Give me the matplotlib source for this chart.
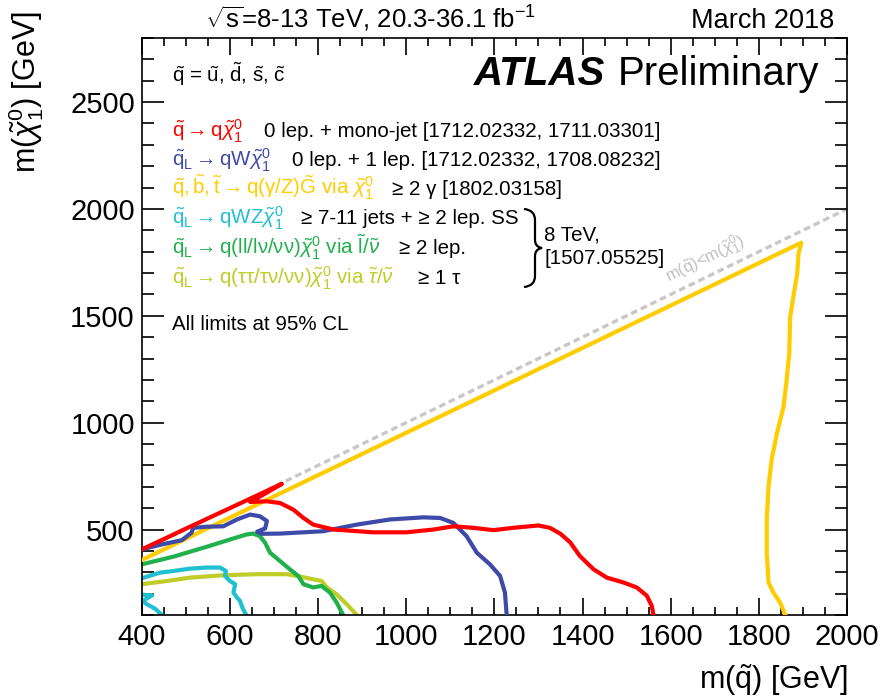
import matplotlib
matplotlib.use("Agg")
import matplotlib.pyplot as plt
from matplotlib.path import Path
from matplotlib.patches import PathPatch
from matplotlib.ticker import MultipleLocator

# ---------------- data (GeV) ----------------
diag_x = [400, 2000]
diag_y = [400, 2000]

red_x = [400, 450, 500, 550, 600, 650, 718, 680, 646, 684, 714, 744, 767, 789, 835, 925, 1001,
         1062, 1107, 1152, 1198, 1243, 1300, 1326, 1350, 1372, 1394, 1425, 1455, 1493, 1523, 1546, 1557, 1561]
red_y = [407, 455, 504, 552, 600, 648, 714, 668, 629, 632, 624, 593, 554, 523, 500, 487, 487,
         500, 515, 508, 497, 508, 519, 508, 480, 440, 376, 314, 275, 252, 229, 190, 143, 100]

blue_x = [400, 445, 491, 513, 517, 547, 585, 616, 646, 668, 684, 680, 662, 672, 714, 812, 888,
          963, 1039, 1077, 1107, 1137, 1160, 1190, 1213, 1224, 1228]
blue_y = [407, 430, 450, 485, 508, 513, 515, 547, 570, 562, 540, 505, 490, 480, 481, 492, 523,
          547, 557, 554, 531, 469, 392, 337, 283, 205, 100]

gold_x = [400, 1896, 1890, 1887, 1878, 1871, 1869, 1863, 1856, 1841, 1829, 1822, 1818, 1818,
          1822, 1833, 1848, 1856, 1860]
gold_y = [357, 1842, 1789, 1696, 1586, 1493, 1324, 1198, 1074, 950, 826, 702, 547, 393,
          252, 205, 159, 120, 100]

cyan1_x = [400, 441, 472, 510, 547, 578, 591, 589, 600, 612, 608, 616, 623, 627, 630, 637]
cyan1_y = [272, 298, 306, 317, 322, 322, 306, 283, 259, 244, 205, 182, 166, 143, 128, 100]
cyan2_x = [400, 424, 412, 402, 412, 430, 446]
cyan2_y = [195, 192, 178, 165, 150, 130, 100]

green_x = [400, 472, 547, 600, 638, 653, 668, 680, 691, 714, 736, 755, 767, 789, 808, 827, 842, 857]
green_y = [337, 373, 419, 453, 477, 481, 469, 438, 392, 352, 314, 283, 244, 229, 236, 205, 159, 100]

yg_x = [400, 457, 510, 585, 661, 729, 759, 789, 808, 820, 842, 865, 888]
yg_y = [244, 259, 275, 286, 291, 291, 280, 267, 259, 229, 197, 151, 100]

x_ticks = [400, 600, 800, 1000, 1200, 1400, 1600, 1800, 2000]
y_ticks = [500, 1000, 1500, 2000, 2500]

RED, BLUE, GOLD, CYAN, GREEN, YG = '#ff0000', '#3d4aa8', '#ffcc00', '#20c0d0', '#20b04c', '#c0cc28'

legend_sig = [
    (r'$\tilde{\mathrm{q}} \rightarrow \mathrm{q}\tilde{\chi}^{0}_{1}$', RED,
     '0 lep. + mono-jet [1712.02332, 1711.03301]'),
    (r'$\tilde{\mathrm{q}}_{\mathrm{L}} \rightarrow \mathrm{qW}\tilde{\chi}^{0}_{1}$', BLUE,
     '0 lep. + 1 lep. [1712.02332, 1708.08232]'),
    (r'$\tilde{\mathrm{q}}, \tilde{\mathrm{b}}, \tilde{\mathrm{t}} \rightarrow \mathrm{q(\gamma/Z)}\tilde{\mathrm{G}}$ via $\tilde{\chi}^{0}_{1}$',
     GOLD, '≥ 2 γ [1802.03158]'),
    (r'$\tilde{\mathrm{q}}_{\mathrm{L}} \rightarrow \mathrm{qWZ}\tilde{\chi}^{0}_{1}$', CYAN,
     '≥ 7-11 jets + ≥ 2 lep. SS'),
    (r'$\tilde{\mathrm{q}}_{\mathrm{L}} \rightarrow \mathrm{q(ll/l\nu/\nu\nu)}\tilde{\chi}^{0}_{1}$ via $\tilde{\mathrm{l}}/\tilde{\nu}$',
     GREEN, '≥ 2 lep.'),
    (r'$\tilde{\mathrm{q}}_{\mathrm{L}} \rightarrow \mathrm{q(\tau\tau/\tau\nu/\nu\nu)}\tilde{\chi}^{0}_{1}$ via $\tilde{\tau}/\tilde{\nu}$',
     YG, '≥ 1 τ'),
]

# ---------------- style ----------------
plt.rcParams['font.family'] = ['Liberation Sans', 'DejaVu Sans']
plt.rcParams['mathtext.fontset'] = 'custom'
plt.rcParams['mathtext.rm'] = 'Liberation Sans'
plt.rcParams['mathtext.it'] = 'Liberation Sans:italic'
plt.rcParams['mathtext.bf'] = 'Liberation Sans:bold'
plt.rcParams['mathtext.sf'] = 'Liberation Sans'

W, H = 883, 697
fig = plt.figure(figsize=(W / 100, H / 100), dpi=100)
L, R, T, B = 141.7, 847.0, 38.0, 615.0
ax = fig.add_axes([L / W, 1 - B / H, (R - L) / W, (B - T) / H])


def fp(px, py):
    return px / W, 1 - py / H


lw = 3.0
ax.plot(diag_x, diag_y, color='#c8c8c8', lw=2.4, ls=(0, (2.0, 1.2)), zorder=1)
ax.plot(yg_x, yg_y, color=YG, lw=lw, zorder=2, solid_joinstyle='round')
ax.plot(green_x, green_y, color=GREEN, lw=lw, zorder=2, solid_joinstyle='round')
ax.plot(cyan1_x, cyan1_y, color=CYAN, lw=lw, zorder=2, solid_joinstyle='round')
ax.plot(cyan2_x, cyan2_y, color=CYAN, lw=lw, zorder=2, solid_joinstyle='round')
ax.plot(gold_x, gold_y, color=GOLD, lw=lw, zorder=3, solid_joinstyle='round')
ax.plot(blue_x, blue_y, color=BLUE, lw=lw, zorder=4, solid_joinstyle='round')
ax.plot(red_x, red_y, color=RED, lw=lw, zorder=5, solid_joinstyle='round')

ax.set_xlim(400, 2000)
ax.set_ylim(100, 2800)
ax.set_xticks(x_ticks)
ax.set_yticks(y_ticks)
ax.xaxis.set_minor_locator(MultipleLocator(50))
ax.yaxis.set_minor_locator(MultipleLocator(100))
ax.tick_params(which='both', direction='in', top=True, right=True, width=1.2)
ax.tick_params(axis='x', which='major', length=12, labelsize=21, pad=6)
ax.tick_params(axis='x', which='minor', length=5.5)
ax.tick_params(axis='y', which='major', length=16, labelsize=21, pad=5)
ax.tick_params(axis='y', which='minor', length=8.5)
for s in ax.spines.values():
    s.set_linewidth(1.2)

# axis labels
fig.text(*fp(848, 680), r'm($\tilde{\mathrm{q}}$) [GeV]', ha='right', va='center', fontsize=22)
fig.text(*fp(26, 92), r'm($\tilde{\chi}^{0}_{1}$) [GeV]', ha='center', va='center',
         rotation=90, fontsize=22)

# header
fig.text(*fp(205, 28), r'$\sqrt{\mathrm{s}}$=8-13 TeV, 20.3-36.1 fb$^{-1}$', ha='left',
         va='baseline', fontsize=18.5)
fig.text(*fp(834, 28), 'March 2018', ha='right', va='baseline', fontsize=19.5)

fig.text(*fp(474, 85), 'ATLAS', ha='left', va='baseline', fontsize=29,
         fontweight='bold', fontstyle='italic')
fig.text(*fp(618, 85), 'Preliminary', ha='left', va='baseline', fontsize=29)

fs = 14.8
fig.text(*fp(172, 82), r'$\tilde{\mathrm{q}}$ = $\tilde{\mathrm{u}}$, $\tilde{\mathrm{d}}$, '
         r'$\tilde{\mathrm{s}}$, $\tilde{\mathrm{c}}$', ha='left', va='baseline', fontsize=fs)

baselines = [137, 166, 195, 224, 254, 284]
ana_x = [264, 292, 392, 301, 399, 418]
fig.canvas.draw()
rend = fig.canvas.get_renderer()
for (sig, col, ana), yb, xa in zip(legend_sig, baselines, ana_x):
    t = fig.text(*fp(172, yb), sig, color=col, ha='left', va='baseline', fontsize=fs)
    bb = t.get_window_extent(rend)
    x0 = max(xa, bb.x1 + 9)
    fig.text(x0 / W, 1 - yb / H, ana, color='black', ha='left', va='baseline', fontsize=fs)

fig.text(*fp(544, 241), '8 TeV,', ha='left', va='baseline', fontsize=fs)
fig.text(*fp(544, 264), '[1507.05525]', ha='left', va='baseline', fontsize=fs)
fig.text(*fp(172, 330), 'All limits at 95% CL', ha='left', va='baseline', fontsize=fs)

# brace
bp = [(524, 209), (535, 210), (535, 220), (535, 240), (535, 247), (542, 248),
      (535, 249), (535, 256), (535, 276), (535, 286), (524, 287)]
codes = [Path.MOVETO, Path.CURVE3, Path.CURVE3, Path.LINETO, Path.CURVE3, Path.CURVE3,
         Path.CURVE3, Path.CURVE3, Path.LINETO, Path.CURVE3, Path.CURVE3]
path = Path([fp(*p) for p in bp], codes)
fig.patches.append(PathPatch(path, transform=fig.transFigure, fill=False, lw=1.6,
                             edgecolor='black', figure=fig))

# diagonal label
ax.text(1678, 1766, r'm($\tilde{\mathrm{q}}$)<m($\tilde{\chi}^{0}_{1}$)', color='#c0c0c0',
        fontsize=12, rotation=26, ha='center', va='center', rotation_mode='anchor', zorder=1)

fig.savefig('out.png', dpi=100)
